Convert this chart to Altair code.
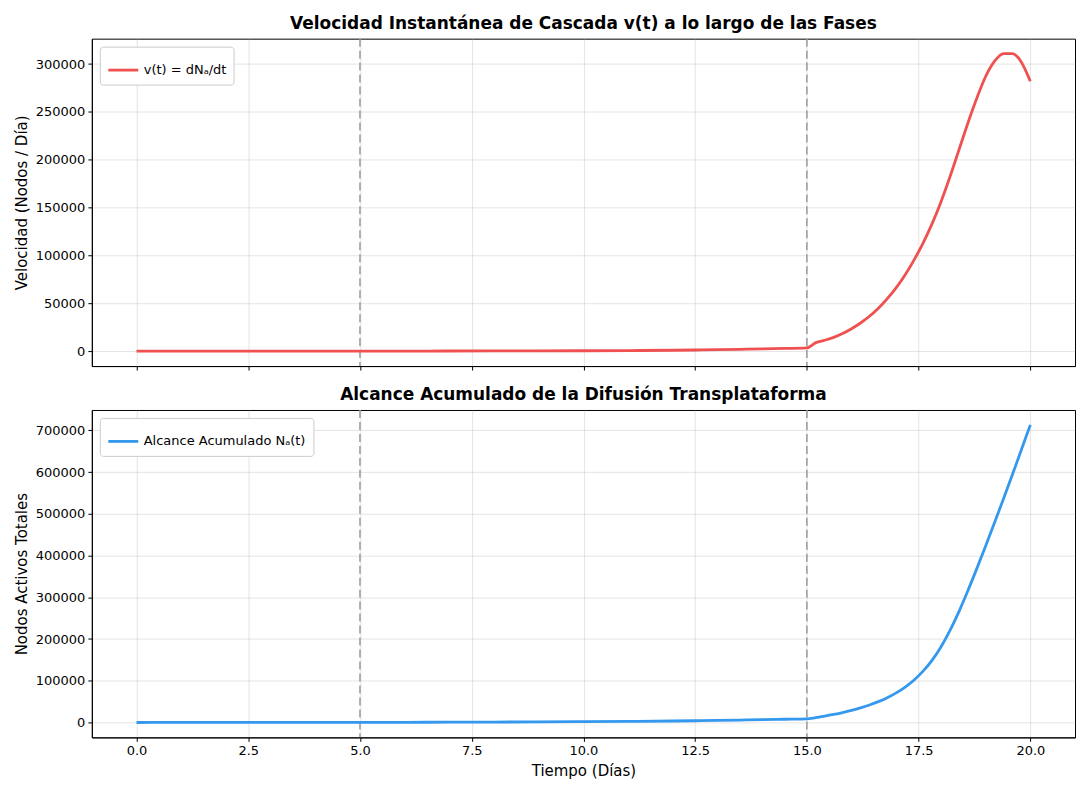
import altair as alt
import pandas as pd

# ---- data ----
t_vals = [0, 1, 2, 3, 4, 5, 6, 7, 8, 9, 10, 11, 12, 12.5, 13, 13.5, 14, 14.5, 15,
          15.2, 15.4, 15.6, 15.8, 16.0, 16.2, 16.4, 16.6, 16.8, 17.0, 17.2, 17.4,
          17.6, 17.8, 18.0, 18.2, 18.4, 18.6, 18.8, 19.0, 19.2, 19.4, 19.6, 19.8, 20.0]
v_vals = [50, 60, 70, 85, 100, 120, 170, 230, 300, 400, 500, 700, 1000, 1300, 1600, 2000,
          2400, 2900, 3500,
          9000, 11500, 14500, 18500, 23500, 29500, 36500, 45000, 55000, 66500, 80000, 95500,
          113000, 133000, 156000, 182000, 210000, 238000, 264000, 287000, 303000, 311000,
          311000, 302000, 282000]
n_vals = [100, 150, 200, 270, 350, 450, 600, 800, 1100, 1500, 2000, 2700, 3600, 4300, 5000,
          5900, 6800, 7800, 8800,
          11800, 15300, 19300, 23800, 29000, 35000, 42000, 50000, 59500, 71000, 85000, 102000,
          123000, 149000, 181000, 220000, 265000, 315000, 368000, 423000, 479000, 536000,
          594000, 653500, 713000]
phase_bounds = [5, 15]
x_ticks = [0, 2.5, 5, 7.5, 10, 12.5, 15, 17.5, 20]
v_ticks = [0, 50000, 100000, 150000, 200000, 250000, 300000]
n_ticks = [0, 100000, 200000, 300000, 400000, 500000, 600000, 700000]

v_label = "v(t) = dNₐ/dt"
n_label = "Alcance Acumulado Nₐ(t)"
red = "#EF5050"
blue = "#3498EE"

df = pd.DataFrame({"t": t_vals, "v": v_vals, "N": n_vals})
df["sv"] = v_label
df["sn"] = n_label
rules_df = pd.DataFrame({"t": phase_bounds})

FONT = "DejaVu Sans"
W, H1, H2 = 985, 328, 328


def pad_domain(vals):
    lo, hi = min(vals), max(vals)
    p = (hi - lo) * 0.05
    return [lo - p, hi + p]


x_dom = [-1, 21]


def panel(field, series_field, label, color, yticks, ytitle, title, height, show_x):
    x_axis = alt.Axis(values=x_ticks, format=".1f", labels=show_x,
                      title="Tiempo (Días)" if show_x else None,
                      grid=True)
    line = alt.Chart(df).mark_line(strokeWidth=2.8, interpolate="monotone").encode(
        x=alt.X("t:Q", scale=alt.Scale(domain=x_dom, nice=False, zero=False), axis=x_axis),
        y=alt.Y(f"{field}:Q",
                scale=alt.Scale(domain=pad_domain(df[field]), nice=False, zero=False),
                axis=alt.Axis(values=yticks, format="d", title=ytitle)),
        color=alt.Color(f"{series_field}:N",
                        scale=alt.Scale(domain=[label], range=[color]),
                        legend=alt.Legend(title=None, orient="top-left", offset=8,
                                          fillColor="white", strokeColor="#cccccc",
                                          cornerRadius=3, padding=7,
                                          symbolType="stroke", symbolSize=900,
                                          symbolStrokeWidth=2.8, labelFontSize=13,
                                          labelFont=FONT, labelLimit=400)),
    )
    rules = alt.Chart(rules_df).mark_rule(color="#999999", strokeWidth=1.5,
                                          strokeDash=[8, 4]).encode(x="t:Q")
    return alt.layer(rules, line).properties(
        width=W, height=height,
        title=alt.TitleParams(title, fontSize=17, fontWeight="bold", font=FONT,
                              anchor="middle", frame="group", offset=5),
    )


top = panel("v", "sv", v_label, red, v_ticks, "Velocidad (Nodos / Día)",
            "Velocidad Instantánea de Cascada v(t) a lo largo de las Fases", H1, False)
bottom = panel("N", "sn", n_label, blue, n_ticks, "Nodos Activos Totales",
               "Alcance Acumulado de la Difusión Transplataforma", H2, True)

chart = alt.vconcat(top, bottom, spacing=14).resolve_scale(color="independent").configure(
    font=FONT,
).configure_view(
    stroke="black", strokeWidth=1,
).configure_axis(
    domainColor="black", tickColor="black", tickSize=4,
    labelFont=FONT, labelFontSize=13, labelColor="black",
    titleFont=FONT, titleFontSize=15, titleFontWeight="normal", titleColor="black",
    gridColor="#b0b0b0", gridOpacity=0.35, labelPadding=3, titlePadding=6,
)

chart.save("out.html", embed_options={"renderer": "svg", "actions": False})
